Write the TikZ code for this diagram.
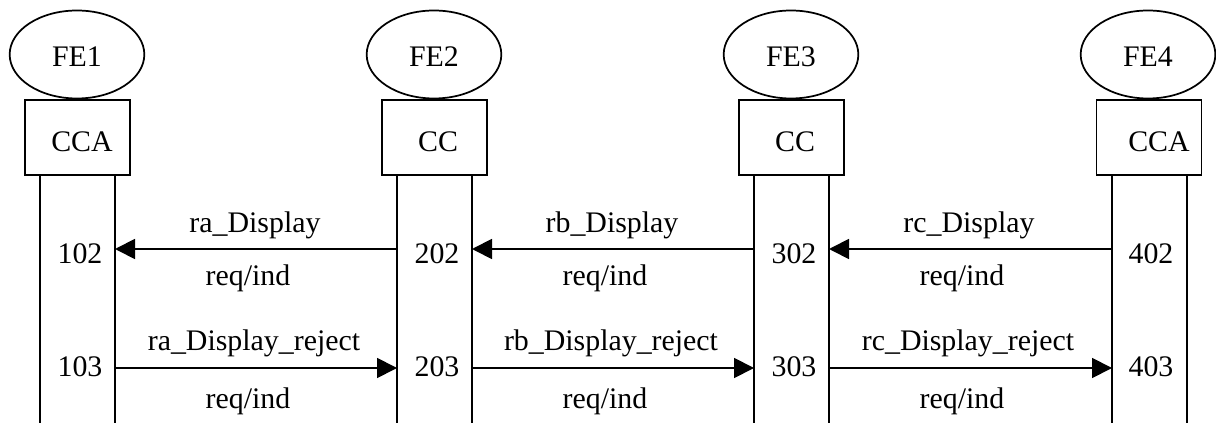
\documentclass[tikz,border=0pt]{standalone}
\usepackage{fontspec}
\setmainfont{Liberation Serif}
\usetikzlibrary{shapes.geometric,arrows.meta}
\begin{document}
\begin{tikzpicture}[x=0.75pt,y=-0.75pt,
  fe/.style={ellipse,draw,line width=1.3pt,minimum width=101pt,minimum height=66pt,inner sep=0pt},
  fb/.style={rectangle,draw,line width=1pt,minimum width=78.75pt,minimum height=56.25pt,inner sep=0pt},
  life/.style={line width=0.9pt},
  msg/.style={line width=1.4pt,-{Triangle[length=15pt,width=15pt]}},
  txt/.style={font=\fontsize{22.4}{26}\selectfont,inner sep=0pt}]
\useasboundingbox (0,0) rectangle (1216,423);

% entities
\node[fe] (fe1) at (77,54.5) {};
\node[fe] (fe2) at (434,54.5) {};
\node[fe] (fe3) at (791,54.5) {};
\node[fe] (fe4) at (1148,54.5) {};
\node[txt] (fe1t) at (77,57) {FE1};
\node[txt] (fe2t) at (434,57) {FE2};
\node[txt] (fe3t) at (791,57) {FE3};
\node[txt] (fe4t) at (1148,57) {FE4};

\node[fb] (b1) at (77.5,137.5) {};
\node[fb] (b2) at (434.5,137.5) {};
\node[fb] (b3) at (791.5,137.5) {};
\node[fb] (b4) at (1149,137.5) {};
\node[txt] (b1t) at (82,142) {CCA};
\node[txt] (b2t) at (438,142) {CC};
\node[txt] (b3t) at (795,142) {CC};
\node[txt] (b4t) at (1159,142) {CCA};

% lifeline coordinates
\foreach \n/\xa/\xb in {1/40/115,2/397/472,3/754/829,4/1112/1187}{
  \coordinate (l\n at) at (\xa,175);
  \coordinate (l\n ab) at (\xa,423);
  \coordinate (l\n bt) at (\xb,175);
  \coordinate (l\n bb) at (\xb,423);
  \coordinate (l\n a1) at (\xa,249);
  \coordinate (l\n b1) at (\xb,249);
  \coordinate (l\n a2) at (\xa,368);
  \coordinate (l\n b2) at (\xb,368);
}
\foreach \n in {1,2,3,4}{
  \draw[life] (l\n at) -- (l\n ab);
  \draw[life] (l\n bt) -- (l\n bb);
}

% numbers
\node[txt] (n102) at (80,254) {102};
\node[txt] (n103) at (80,367) {103};
\node[txt] (n202) at (437,254) {202};
\node[txt] (n203) at (437,367) {203};
\node[txt] (n302) at (794,254) {302};
\node[txt] (n303) at (794,367) {303};
\node[txt] (n402) at (1151,254) {402};
\node[txt] (n403) at (1151,367) {403};

% messages
\draw[msg] (l2a1) -- (l1b1);
\draw[msg] (l3a1) -- (l2b1);
\draw[msg] (l4a1) -- (l3b1);
\draw[msg] (l1b2) -- (l2a2);
\draw[msg] (l2b2) -- (l3a2);
\draw[msg] (l3b2) -- (l4a2);

\node[txt] (m1) at (255,225) {ra\_Display};
\node[txt] (m2) at (612,225) {rb\_Display};
\node[txt] (m3) at (969,225) {rc\_Display};
\node[txt] (r1) at (248,278) {req/ind};
\node[txt] (r2) at (605,278) {req/ind};
\node[txt] (r3) at (962,278) {req/ind};
\node[txt] (m4) at (254,343) {ra\_Display\_reject};
\node[txt] (m5) at (611,343) {rb\_Display\_reject};
\node[txt] (m6) at (968,343) {rc\_Display\_reject};
\node[txt] (r4) at (248,401) {req/ind};
\node[txt] (r5) at (605,401) {req/ind};
\node[txt] (r6) at (962,401) {req/ind};
\end{tikzpicture}
\end{document}
